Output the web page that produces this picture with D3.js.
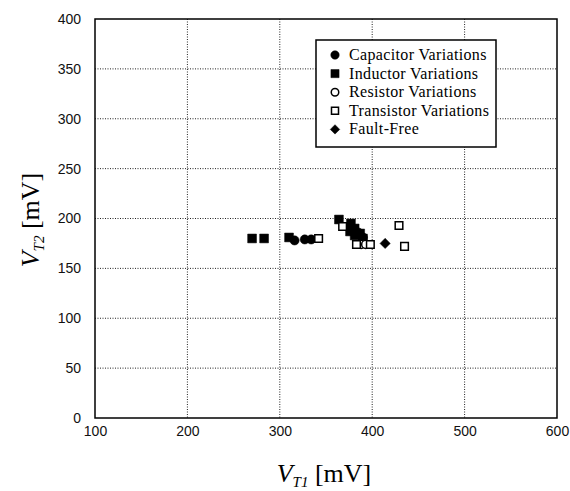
<!DOCTYPE html>
<html>
<head>
<meta charset="utf-8">
<script src="https://cdn.jsdelivr.net/npm/d3@7"></script>
<style>
  body { margin: 0; background: #fff; }
</style>
</head>
<body>
<div class="canvas"></div>
<script>
// tick values
const xTicks = [100, 200, 300, 400, 500, 600];
const yTicks = [0, 50, 100, 150, 200, 250, 300, 350, 400];

// series values [VT1, VT2] in mV
const capacitor = [[316, 178], [327, 179], [334, 179], [379, 189], [385, 186], [390, 181]];
const inductor = [[270, 180], [283, 180], [310, 181], [364, 199], [377, 195], [381, 190],
  [376, 187], [381, 183], [387, 185], [390, 180]];
const resistor = [[388, 174], [393, 174]];
const transistor = [[342, 180], [368, 192], [383, 174], [398, 174], [429, 193], [435, 172]];
const faultFree = [[414, 175]];

const seriesNames = ["Capacitor Variations", "Inductor Variations", "Resistor Variations",
  "Transistor Variations", "Fault-Free"];

// dimensions
const dims = { width: 570, height: 491 };
const plot = { left: 95, right: 557, top: 19, bottom: 418 };

const svg = d3
  .select(".canvas")
  .append("svg")
  .attr("width", dims.width)
  .attr("height", dims.height);

// scales
const x = d3.scaleLinear().domain([100, 600]).range([plot.left, plot.right]);
const y = d3.scaleLinear().domain([0, 400]).range([plot.bottom, plot.top]);

// symbol styles
const styles = [
  { type: d3.symbolCircle, size: 66, fill: "#000", rotate: 0 },
  { type: d3.symbolSquare, size: 78, fill: "#000", rotate: 0 },
  { type: d3.symbolCircle, size: 52, fill: "#fff", rotate: 0 },
  { type: d3.symbolSquare, size: 58, fill: "#fff", rotate: 0 },
  { type: d3.symbolSquare, size: 52, fill: "#000", rotate: 45 },
];
const seriesData = [capacitor, inductor, resistor, transistor, faultFree];

// grid lines (dotted)
const grid = svg.append("g");
grid
  .selectAll(".vgrid")
  .data(xTicks.slice(1, -1))
  .enter()
  .append("line")
  .attr("x1", (d) => x(d))
  .attr("x2", (d) => x(d))
  .attr("y1", plot.top)
  .attr("y2", plot.bottom)
  .attr("stroke", "#222")
  .attr("stroke-width", 1)
  .attr("stroke-dasharray", "1,1.5");
grid
  .selectAll(".hgrid")
  .data(yTicks.slice(1, -1))
  .enter()
  .append("line")
  .attr("x1", plot.left)
  .attr("x2", plot.right)
  .attr("y1", (d) => y(d))
  .attr("y2", (d) => y(d))
  .attr("stroke", "#222")
  .attr("stroke-width", 1)
  .attr("stroke-dasharray", "1,1.5");

// frame
svg
  .append("rect")
  .attr("x", plot.left)
  .attr("y", plot.top)
  .attr("width", plot.right - plot.left)
  .attr("height", plot.bottom - plot.top)
  .attr("fill", "none")
  .attr("stroke", "#000")
  .attr("stroke-width", 1.5);

// axes labels (no domain lines, frame handles it)
const tickFont = "'Liberation Sans', Arial, sans-serif";
const xAxis = svg
  .append("g")
  .attr("transform", `translate(0, ${plot.bottom})`)
  .call(d3.axisBottom(x).tickValues(xTicks).tickSize(0).tickPadding(8));
const yAxis = svg
  .append("g")
  .attr("transform", `translate(${plot.left}, 0)`)
  .call(d3.axisLeft(y).tickValues(yTicks).tickSize(0).tickPadding(14));
[xAxis, yAxis].forEach((a) => {
  a.select(".domain").remove();
  a.selectAll("text")
    .attr("font-family", tickFont)
    .attr("font-size", 14)
    .attr("fill", "#111");
});

// points
const points = svg.append("g");
seriesData.forEach((data, i) => {
  const s = styles[i];
  points
    .selectAll(`.s${i}`)
    .data(data)
    .enter()
    .append("path")
    .attr("class", `s${i}`)
    .attr("d", d3.symbol().type(s.type).size(s.size))
    .attr("transform", (d) => `translate(${x(d[0])}, ${y(d[1])}) rotate(${s.rotate})`)
    .attr("fill", s.fill)
    .attr("stroke", "#000")
    .attr("stroke-width", s.fill === "#fff" ? 1.5 : 0.5);
});

// legend
const legend = svg.append("g").attr("transform", "translate(316, 40)");
legend
  .append("rect")
  .attr("width", 180)
  .attr("height", 107)
  .attr("fill", "#fff")
  .attr("stroke", "#000")
  .attr("stroke-width", 1.5);
const rows = legend
  .selectAll(".row")
  .data(seriesNames)
  .enter()
  .append("g")
  .attr("transform", (d, i) => `translate(0, ${15 + i * 18.6})`);
rows
  .append("path")
  .attr("d", (d, i) => d3.symbol().type(styles[i].type).size(styles[i].size * 0.85)())
  .attr("transform", (d, i) => `translate(19, 0) rotate(${styles[i].rotate})`)
  .attr("fill", (d, i) => styles[i].fill)
  .attr("stroke", "#000")
  .attr("stroke-width", (d, i) => (styles[i].fill === "#fff" ? 1.5 : 0.5));
rows
  .append("text")
  .attr("x", 33)
  .attr("y", 5)
  .attr("font-family", "'Liberation Serif', 'Times New Roman', serif")
  .attr("font-size", 16)
  .attr("letter-spacing", 0.35)
  .attr("fill", "#000")
  .text((d) => d);

// axis titles
const titleFont = "'Liberation Serif', 'Times New Roman', serif";
const xTitle = svg
  .append("text")
  .attr("x", 324)
  .attr("y", 482)
  .attr("text-anchor", "middle")
  .attr("font-family", titleFont)
  .attr("font-size", 26);
xTitle.append("tspan").attr("font-style", "italic").text("V");
xTitle.append("tspan").attr("font-style", "italic").attr("font-size", 15).attr("dy", 5).text("T1");
xTitle.append("tspan").attr("dy", -5).text(" [mV]");

const yTitle = svg
  .append("text")
  .attr("transform", "translate(39, 220) rotate(-90)")
  .attr("text-anchor", "middle")
  .attr("font-family", titleFont)
  .attr("font-size", 26);
yTitle.append("tspan").attr("font-style", "italic").text("V");
yTitle.append("tspan").attr("font-style", "italic").attr("font-size", 15).attr("dy", 5).text("T2");
yTitle.append("tspan").attr("dy", -5).text(" [mV]");
</script>
</body>
</html>
